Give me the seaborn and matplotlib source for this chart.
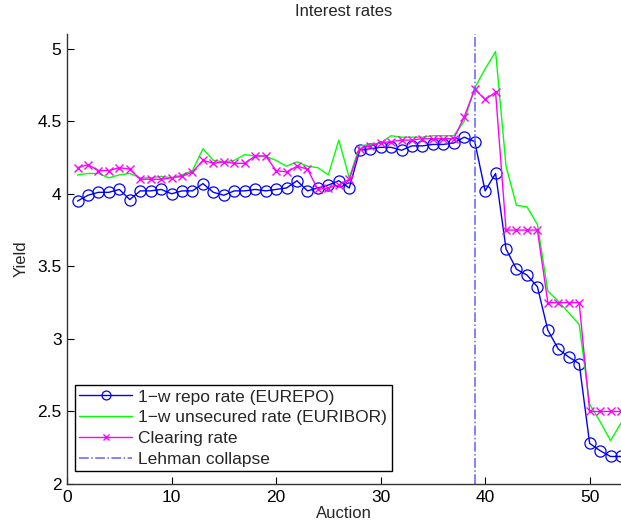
import matplotlib
matplotlib.use("Agg")
import matplotlib.pyplot as plt
import seaborn as sns
import numpy as np

auction = list(range(1, 54))
eurepo = [3.95, 3.99, 4.01, 4.01, 4.03, 3.96, 4.02, 4.02, 4.03, 4.00,
          4.02, 4.02, 4.07, 4.01, 3.99, 4.02, 4.02, 4.03, 4.02, 4.03,
          4.04, 4.09, 4.02, 4.04, 4.06, 4.09, 4.04, 4.30, 4.31, 4.32,
          4.32, 4.30, 4.33, 4.33, 4.34, 4.34, 4.35, 4.39, 4.36, 4.02,
          4.14, 3.62, 3.48, 3.44, 3.36, 3.06, 2.93, 2.875, 2.83, 2.28,
          2.23, 2.19, 2.19]
euribor = [4.13, 4.14, 4.14, 4.11, 4.13, 4.14, 4.11, 4.11, 4.12, 4.11,
           4.13, 4.16, 4.31, 4.23, 4.22, 4.23, 4.27, 4.26, 4.26, 4.23,
           4.19, 4.22, 4.19, 4.18, 4.13, 4.37, 4.11, 4.33, 4.34, 4.35,
           4.40, 4.39, 4.39, 4.39, 4.40, 4.40, 4.40, 4.50, 4.73, 4.86,
           4.98, 4.19, 3.92, 3.91, 3.79, 3.33, 3.26, 3.18, 3.10, 2.55,
           2.43, 2.30, 2.42]
clearing = [4.18, 4.20, 4.16, 4.16, 4.18, 4.17, 4.10, 4.10, 4.10, 4.11,
            4.12, 4.15, 4.23, 4.21, 4.22, 4.21, 4.21, 4.26, 4.26, 4.16,
            4.15, 4.19, 4.17, 4.03, 4.04, 4.06, 4.10, 4.31, 4.33, 4.35,
            4.36, 4.37, 4.37, 4.38, 4.38, 4.38, 4.38, 4.53, 4.72, 4.65,
            4.70, 3.75, 3.75, 3.75, 3.75, 3.25, 3.25, 3.25, 3.25, 2.50,
            2.50, 2.50, 2.50]
lehman_auction = 39

labels = ["1\u2212w repo rate (EUREPO)", "1\u2212w unsecured rate (EURIBOR)",
          "Clearing rate", "Lehman collapse"]
x_ticks = [0, 10, 20, 30, 40, 50]
y_ticks = [2, 2.5, 3, 3.5, 4, 4.5, 5]

sns.set_theme(style="white")
plt.rcParams['font.family'] = ['Liberation Sans', 'DejaVu Sans']

fig = plt.figure(figsize=(6.21, 5.25), dpi=100)
ax = fig.add_axes([0.108, 0.078, 0.892, 0.857])

sns.lineplot(x=auction, y=eurepo, ax=ax, color='#0000ff', lw=1.0,
             marker='o', markersize=8, markerfacecolor='none',
             markeredgecolor='#0000ff', markeredgewidth=0.9, label=labels[0])
sns.lineplot(x=auction, y=euribor, ax=ax, color='#00ff00', lw=1.0,
             label=labels[1])
sns.lineplot(x=auction, y=clearing, ax=ax, color='#ff00ff', lw=1.0,
             marker='x', markersize=6, markeredgecolor='#ff00ff',
             markeredgewidth=1.0, label=labels[2])
ax.axvline(lehman_auction, color='#6060ff', lw=1.1, ls='-.', label=labels[3])

ax.set_xlim(0, 53)
ax.set_ylim(2, 5.1)
ax.set_xticks(x_ticks)
ax.set_yticks(y_ticks)
ax.set_yticklabels(['2', '2.5', '3', '3.5', '4', '4.5', '5'])
ax.tick_params(direction='in', length=5, width=0.8, labelsize=12.5,
               colors='black', left=True, bottom=True, pad=4)
for s in ['top', 'right']:
    ax.spines[s].set_visible(False)
for s in ['left', 'bottom']:
    ax.spines[s].set_color('#333333')
    ax.spines[s].set_linewidth(1.0)

ax.set_title("Interest rates", fontsize=12, pad=13)
ax.set_xlabel("Auction", fontsize=12, labelpad=1)
ax.set_ylabel("Yield", fontsize=12, labelpad=6)

leg = ax.legend(loc='lower left', bbox_to_anchor=(0.0144, 0.029), fontsize=12.5,
                frameon=True, fancybox=False, edgecolor='black',
                borderpad=0.25, labelspacing=0.32, handlelength=3.05,
                handletextpad=0.35, borderaxespad=0.0, markerscale=0.8)
leg.get_frame().set_linewidth(1.0)
leg.get_frame().set_alpha(1.0)

fig.savefig("out.png", dpi=100)
